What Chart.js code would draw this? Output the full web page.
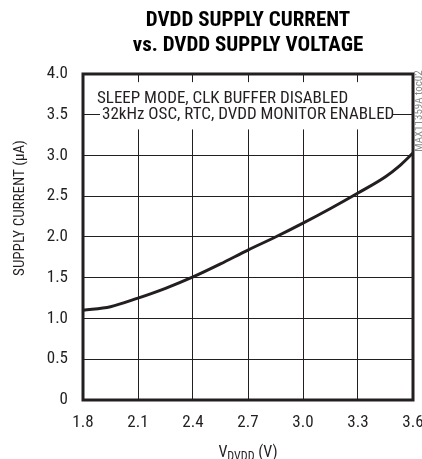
<!DOCTYPE html>
<html><head><meta charset="utf-8">
<script src="https://cdn.jsdelivr.net/npm/chart.js@4/dist/chart.umd.min.js"></script>
<style>html,body{margin:0;padding:0;background:#fff;}canvas{display:block;}</style>
</head><body>
<canvas id="c" width="422" height="459"></canvas>
<script>
const voltages = [1.8, 1.95, 2.1, 2.25, 2.4, 2.55, 2.7, 2.85, 3.0, 3.15, 3.3, 3.45, 3.525, 3.6];
const currents = [1.10, 1.145, 1.25, 1.37, 1.51, 1.67, 1.84, 2.00, 2.17, 2.35, 2.54, 2.74, 2.87, 3.03];
const xTicks = [1.8, 2.1, 2.4, 2.7, 3.0, 3.3, 3.6];
const yTicks = [0, 0.5, 1.0, 1.5, 2.0, 2.5, 3.0, 3.5, 4.0];
const titleLines = ['DVDD SUPPLY CURRENT', 'vs. DVDD SUPPLY VOLTAGE'];
const noteLines = ['SLEEP MODE, CLK BUFFER DISABLED', '32kHz OSC, RTC, DVDD MONITOR ENABLED'];
const yTitle = 'SUPPLY CURRENT (\u00B5A)';
const xTitleMain = 'V', xTitleSub = 'DVDD', xTitleTail = ' (V)';
const sideNote = 'MAX11359A toc02';

const FONT = '"Roboto Condensed", "Liberation Sans", Arial, sans-serif';
const INK = '#231f20';

const extras = {
  id: 'extras',
  beforeDatasetsDraw(chart) {
    const ctx = chart.ctx;
    const y = chart.scales.y;
    ctx.save();
    ctx.fillStyle = '#fff';
    const top = y.getPixelForValue(3.9), bot = y.getPixelForValue(3.32);
    ctx.fillRect(100, top, 293, bot - top);
    ctx.fillStyle = INK;
    ctx.font = '17px ' + FONT;
    ctx.textBaseline = 'middle';
    ctx.textAlign = 'left';
    ctx.fillText(noteLines[0], 97, y.getPixelForValue(3.7));
    ctx.fillText(noteLines[1], 102, y.getPixelForValue(3.5));
    ctx.restore();
  },
  afterDatasetsDraw(chart) {
    const ctx = chart.ctx, a = chart.chartArea;
    ctx.save();
    ctx.strokeStyle = INK;
    ctx.lineWidth = 3;
    ctx.strokeRect(a.left, a.top, a.right - a.left, a.bottom - a.top);
    ctx.fillStyle = INK;
    // x axis title with subscript
    ctx.textBaseline = 'alphabetic';
    ctx.textAlign = 'left';
    ctx.font = '16px ' + FONT;
    const w1 = ctx.measureText(xTitleMain).width;
    const w3 = ctx.measureText(xTitleTail).width;
    ctx.font = '12px ' + FONT;
    const w2 = ctx.measureText(xTitleSub).width;
    const cx = (a.left + a.right) / 2;
    const sx = cx - (w1 + w2 + w3) / 2;
    const base = 457;
    ctx.font = '16px ' + FONT;
    ctx.fillText(xTitleMain, sx, base);
    ctx.font = '12px ' + FONT;
    ctx.fillText(xTitleSub, sx + w1, base + 3);
    ctx.font = '16px ' + FONT;
    ctx.fillText(xTitleTail, sx + w1 + w2, base);
    // y axis title
    ctx.save();
    ctx.translate(20, 208);
    ctx.rotate(-Math.PI / 2);
    ctx.textAlign = 'center';
    ctx.textBaseline = 'middle';
    ctx.font = '15px ' + FONT;
    ctx.fillText(yTitle, 0, 0);
    ctx.restore();
    // side note
    ctx.translate(419, 111);
    ctx.rotate(-Math.PI / 2);
    ctx.textAlign = 'center';
    ctx.textBaseline = 'middle';
    ctx.font = '11px ' + FONT;
    ctx.fillStyle = '#8a8a8a';
    ctx.fillText(sideNote, 0, 0);
    ctx.restore();
  }
};

new Chart(document.getElementById('c'), {
  type: 'line',
  data: {
    datasets: [{
      data: voltages.map((v, i) => ({ x: v, y: currents[i] })),
      borderColor: INK,
      borderWidth: 3,
      pointRadius: 0,
      cubicInterpolationMode: 'monotone',
      fill: false
    }]
  },
  options: {
    responsive: false,
    animation: false,
    devicePixelRatio: 1,
    layout: { padding: { left: 0, right: 9, top: 0, bottom: 0 } },
    plugins: {
      legend: { display: false },
      tooltip: { enabled: false },
      title: {
        display: true,
        fullSize: false,
        text: titleLines,
        color: '#000',
        font: { family: FONT, size: 21, weight: 'bold', lineHeight: 1.214 },
        padding: { top: 8, bottom: 15 }
      }
    },
    scales: {
      x: {
        type: 'linear', min: 1.8, max: 3.6,
        afterBuildTicks: s => { s.ticks = xTicks.map(v => ({ value: v })); },
        afterFit: s => { s.height = 59; s.paddingLeft = 0; s.paddingRight = 0; },
        ticks: { color: INK, font: { family: FONT, size: 17 }, padding: 13, maxRotation: 0,
                 callback: v => v.toFixed(1) },
        grid: { color: INK, lineWidth: 1, drawTicks: false },
        border: { display: false }
      },
      y: {
        min: 0, max: 4,
        afterBuildTicks: s => { s.ticks = yTicks.map(v => ({ value: v })); },
        afterFit: s => { s.width = 83; s.paddingTop = 0; s.paddingBottom = 0; },
        ticks: { color: INK, font: { family: FONT, size: 17 }, padding: 15,
                 callback: v => v === 0 ? '0' : v.toFixed(1) },
        grid: { color: INK, lineWidth: 1, drawTicks: false },
        border: { display: false }
      }
    }
  },
  plugins: [extras]
});
</script>
</body></html>
